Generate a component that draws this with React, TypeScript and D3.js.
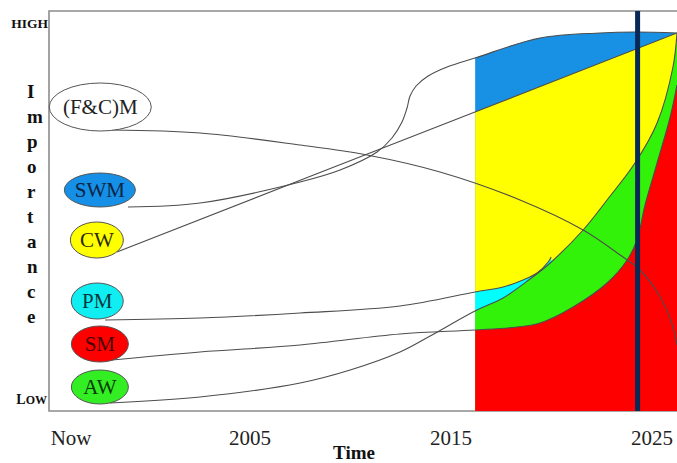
import React from 'react';
import * as d3 from 'd3';

// ---------- data ----------
const xTickYears = [1996.1, 2005, 2015, 2025];
const xTickLabels = ['Now', '2005', '2015', '2025'];
const xTitle = 'Time';
const yLevelLabels = ['HIGH', 'LOW'];
const yLevelValues = [97, 3];
const yTitleLetters = ['I', 'm', 'p', 'o', 'r', 't', 'a', 'n', 'c', 'e'];

const yearStart = 1995;
const yearEnd = 2026.24;
const forecastStart = 2016.2;
const markerYear = 2024.28;

const categories = ['(F&C)M', 'SWM', 'CW', 'PM', 'SM', 'AW'];
const categoryLevels = [76, 55.25, 42.75, 27.5, 16.75, 6];
const categoryYears = [1997.55, 1997.53, 1997.38, 1997.4, 1997.53, 1997.53];

// importance curves: [year, importance 0..100]
const fcmSeries: [number, number][] = [
  [1998.13, 70.25], [2002.51, 69.5], [2007.49, 66.5], [2010.82, 64], [2014.45, 59.75],
  [2018.43, 52.75], [2021.57, 45.25], [2023.41, 39], [2024.4, 35.25], [2025.4, 28.5],
  [2026.04, 21], [2026.24, 16.5],
];
const swmSeries: [number, number][] = [
  [1998.93, 51], [2002.51, 52], [2007.49, 57.25], [2009.48, 60.25], [2011.32, 64.75],
  [2012.06, 68.25], [2012.56, 72.25], [2012.81, 75.75], [2012.96, 78.75], [2013.26, 81.25],
  [2013.86, 83.75], [2014.8, 86], [2016.19, 88.25], [2019.43, 93.25], [2022.41, 94.5],
  [2024.15, 94.75], [2026.24, 94.5],
];
const cwSeries: [number, number][] = [
  [1998.38, 39.75], [2016.19, 74.75], [2026.24, 94.5],
];
const pmSeries: [number, number][] = [
  [1997.79, 22.75], [2002.51, 23.25], [2007.49, 24.5], [2012.46, 26.25], [2016.19, 29.75],
  [2017.59, 31], [2018.58, 32.75], [2019.28, 34.5], [2019.83, 37.25], [2019.98, 38.5],
];
const awSeries: [number, number][] = [
  [1998.03, 2], [2002.51, 3.5], [2007.49, 7], [2009.98, 10.25], [2012.46, 14.75],
  [2013.96, 18.75], [2016.19, 25], [2017.59, 28.25], [2018.93, 33], [2019.93, 37],
  [2021.57, 45.25], [2022.76, 52.75], [2024.15, 62], [2025.25, 72], [2026.04, 86],
  [2026.24, 94.5],
];
const smSeries: [number, number][] = [
  [1998.13, 12.75], [2002.51, 14.75], [2007.49, 16.5], [2012.46, 19.25], [2016.19, 20.25],
  [2018.28, 21], [2019.43, 22], [2021.07, 26], [2022.76, 32], [2023.76, 37.75],
  [2024.25, 42.75], [2024.65, 51.5], [2025.25, 62], [2025.9, 73.5], [2026.24, 81.5],
];

// ---------- styling / layout ----------
const W = 677;
const H = 463;
const plot = { left: 49, top: 11, right: 677, bottom: 411 };
const fillColors = {
  swm: '#1890e4', cw: '#ffff00', pm: '#00ffff', aw: '#33f20a', sm: '#ff0000',
};
const ellipseFill = ['#ffffff', '#1590e6', '#ffff00', '#11eef2', '#ff0000', '#33ee22'];
const ellipseText = ['#222222', '#0b2545', '#2a2a00', '#003a40', '#4a0000', '#0a3a0a'];
const ellipseRx = [51, 35.5, 26.5, 26, 28.5, 28.5];
const ellipseRy = [24, 17, 18, 18, 18, 17];
const serif = '"Liberation Serif", "Times New Roman", serif';

export default function App() {
  const x = d3.scaleLinear().domain([yearStart, yearEnd]).range([plot.left, plot.right]);
  const y = d3.scaleLinear().domain([0, 100]).range([plot.bottom, plot.top]);
  const curve = d3.curveCatmullRom.alpha(0.5);
  const line = d3.line<[number, number]>().x(d => x(d[0])).y(d => y(d[1])).curve(curve);
  const area = d3
    .area<[number, number]>()
    .x(d => x(d[0]))
    .y0(y(0))
    .y1(d => y(d[1]))
    .curve(curve);

  const fillLayers: { s: [number, number][]; c: string }[] = [
    { s: swmSeries, c: fillColors.swm },
    { s: cwSeries, c: fillColors.cw },
    { s: pmSeries, c: fillColors.pm },
    { s: awSeries, c: fillColors.aw },
    { s: smSeries, c: fillColors.sm },
  ];
  const lines = [swmSeries, cwSeries, pmSeries, awSeries, smSeries, fcmSeries];

  const x0 = x(forecastStart);

  return (
    <svg
      width={W}
      height={H}
      style={{ position: 'absolute', left: 0, top: 0, background: '#fff' }}
    >
      <defs>
        <clipPath id="forecastClip">
          <rect x={x0} y={plot.top} width={plot.right - x0} height={plot.bottom - plot.top} />
        </clipPath>
      </defs>

      {/* frame */}
      <path
        d={`M${plot.right},${plot.top} L${plot.left},${plot.top} L${plot.left},${plot.bottom} L${plot.right},${plot.bottom}`}
        fill="none"
        stroke="#8c8c8c"
        strokeWidth={1.6}
      />

      {/* filled forecast layers */}
      <g clipPath="url(#forecastClip)">
        {fillLayers.map((l, i) => (
          <path key={i} d={area(l.s) || ''} fill={l.c} />
        ))}
      </g>

      {/* connector / boundary lines */}
      <g fill="none" stroke="#4d4d4d" strokeWidth={1.1}>
        {lines.map((s, i) => (
          <path key={i} d={line(s) || ''} />
        ))}
      </g>

      {/* marker line */}
      <line
        x1={x(markerYear)}
        x2={x(markerYear)}
        y1={plot.top}
        y2={plot.bottom}
        stroke="#082955"
        strokeWidth={5}
      />

      {/* category ellipses */}
      {categories.map((c, i) => (
        <g key={c}>
          <ellipse
            cx={x(categoryYears[i])}
            cy={y(categoryLevels[i])}
            rx={ellipseRx[i]}
            ry={ellipseRy[i]}
            fill={ellipseFill[i]}
            stroke="#555"
            strokeWidth={1}
          />
          <text
            x={x(categoryYears[i])}
            y={y(categoryLevels[i]) + 7}
            textAnchor="middle"
            fontFamily={serif}
            fontSize={21}
            fill={ellipseText[i]}
          >
            {c}
          </text>
        </g>
      ))}

      {/* y level labels */}
      <text
        x={48}
        y={y(yLevelValues[0]) + 5}
        textAnchor="end"
        fontFamily={serif}
        fontWeight="bold"
        fontSize={13.5}
        fill="#111"
      >
        {yLevelLabels[0]}
      </text>
      <text
        x={47}
        y={y(yLevelValues[1]) + 5}
        textAnchor="end"
        fontFamily={serif}
        fontWeight="bold"
        fill="#111"
      >
        <tspan fontSize={14}>{yLevelLabels[1].slice(0, 1)}</tspan>
        <tspan fontSize={12}>{yLevelLabels[1].slice(1)}</tspan>
      </text>

      {/* y title, stacked letters */}
      {yTitleLetters.map((ch, i) => (
        <text
          key={i}
          x={27}
          y={97.5 + i * 25.1}
          fontFamily={serif}
          fontWeight="bold"
          fontSize={19}
          fill="#111"
        >
          {ch}
        </text>
      ))}

      {/* x tick labels */}
      {xTickYears.map((yr, i) => (
        <text
          key={i}
          x={x(yr)}
          y={445}
          textAnchor="middle"
          fontFamily={serif}
          fontSize={21}
          fill="#222"
        >
          {xTickLabels[i]}
        </text>
      ))}
      <text
        x={354}
        y={459}
        textAnchor="middle"
        fontFamily={serif}
        fontWeight="bold"
        fontSize={19}
        fill="#111"
      >
        {xTitle}
      </text>
    </svg>
  );
}
